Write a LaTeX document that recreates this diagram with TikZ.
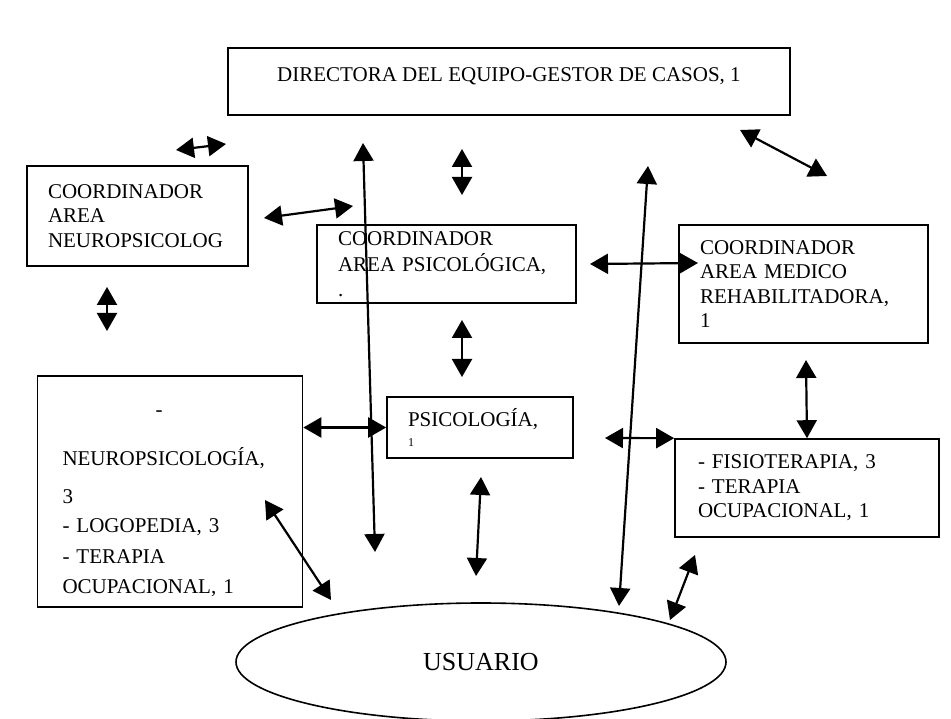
\documentclass[tikz,border=0pt]{standalone}
\usepackage{fontspec}
\setmainfont{Liberation Serif}
\usepackage{tikz}
\usetikzlibrary{arrows.meta, shapes.geometric}
\hyphenpenalty=10000

\begin{document}
\begin{tikzpicture}[
  x=1pt, y=-1pt,
  >={Triangle[length=18pt,width=20pt]},
  every node/.style={font=\fontsize{21}{24.5}\selectfont},
  unit/.style={draw, line width=1.6pt, inner xsep=21pt, inner ysep=0pt, align=left},
  link/.style={<->, line width=2.2pt}
]
\useasboundingbox (0,0) rectangle (951,719);
\node[unit, align=center, minimum width=562pt, minimum height=67pt, text depth=14pt] (dir) at (509,81.5)
  {DIRECTORA DEL EQUIPO-GESTOR DE CASOS, 1};
\node[unit, text width=179pt, minimum height=100pt] (cneuro) at (137.5,216)
  {COORDINADOR\\AREA\\NEUROPSICOLOG};
\node[unit, text width=217pt, minimum height=78pt] (cpsico) at (446.5,264)
  {COORDINADOR\\[1.5pt]AREA PSICOLÓGICA,\\.};
\node[unit, text width=207pt, minimum height=118pt] (cmed) at (803.5,284)
  {COORDINADOR\\AREA MEDICO\\REHABILITADORA,\\1};
\node[unit, text width=215pt, inner xsep=25pt, minimum height=231pt] (neuro) at (170,491.5)
  {\rule{0pt}{30pt}\hspace*{93pt}-\\[24pt]NEUROPSICOLOGÍA,\\[14pt]3\\[4pt]- LOGOPEDIA, 3\\[7pt]- TERAPIA\\[5pt]OCUPACIONAL, 1};
\node[unit, text width=144pt, minimum height=61pt] (psico) at (480,427.5)
  {PSICOLOGÍA,\\[-4pt]{\fontsize{12}{12}\selectfont 1}};
\node[unit, text width=218pt, inner xsep=23pt, minimum height=98pt] (fisio) at (807,488)
  {- FISIOTERAPIA, 3\\- TERAPIA\\OCUPACIONAL, 1};
\node[draw, ellipse, line width=1.6pt, minimum width=490pt, minimum height=118pt,
      font=\fontsize{26}{30}\selectfont] (user) at (481,662) {USUARIO};

\coordinate (a1) at (176,150);
\coordinate (a2) at (226,144);
\coordinate (b1) at (363,143);
\coordinate (b2) at (375,552);
\coordinate (c1) at (462,149);
\coordinate (c2) at (462,195);
\coordinate (d1) at (648,166);
\coordinate (d2) at (619,606);
\coordinate (e1) at (740,130);
\coordinate (e2) at (827,176);
\coordinate (f1) at (264,218);
\coordinate (f2) at (353,206);
\coordinate (g1) at (590,264);
\coordinate (g2) at (698,263);
\coordinate (h1) at (107,287);
\coordinate (h2) at (107,331);
\coordinate (i1) at (462,320);
\coordinate (i2) at (462,377);
\coordinate (j1) at (806,360);
\coordinate (l1) at (605,438);
\coordinate (m1) at (481,477);
\coordinate (m2) at (476,576);
\coordinate (n1) at (265,500);
\coordinate (n2) at (331,600);
\coordinate (o1) at (695,555);
\coordinate (o2) at (670,620);

\draw[link] (a1) -- (a2);
\draw[link] (b1) -- (b2);
\draw[link] (c1) -- (c2);
\draw[link] (d1) -- (d2);
\draw[link] (e1) -- (e2);
\draw[link] (f1) -- (f2);
\draw[link] (g1) -- (g2);
\draw[link] (h1) -- (h2);
\draw[link] (i1) -- (i2);
\draw[link] (j1) -- (fisio.north);
\draw[link] (neuro.east |- psico.west) -- (psico.west);
\draw[link] (l1) -- (fisio.north west);
\draw[link] (m1) -- (m2);
\draw[link] (n1) -- (n2);
\draw[link] (o1) -- (o2);
\end{tikzpicture}
\end{document}
